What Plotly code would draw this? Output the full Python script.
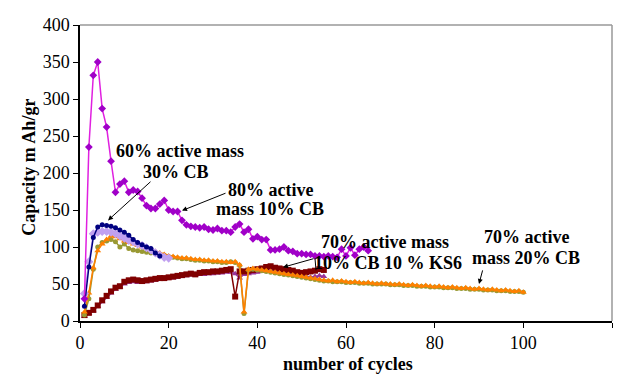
import plotly.graph_objects as go

# ---------------- data ----------------
cycles_m = list(range(1, 66))
cap_magenta = [30, 235, 332, 350, 287, 262, 216, 174, 185, 189, 174, 177, 175, 166, 156, 152,
               152, 158, 163, 150, 148, 148, 136, 130, 128, 127, 126, 127, 124, 123, 125, 122,
               122, 120, 127, 131, 120, 124, 111, 114, 110, 110, 96, 96, 97, 100, 95, 94, 91,
               91, 90, 90, 88, 88, 87, 88, 87, 86, 97, 88, 99, 89, 97, 100, 95]

cycles_n = list(range(1, 19))
cap_navy = [20, 73, 113, 127, 130, 129, 128, 126, 123, 120, 116, 110, 106, 103, 100, 98, 92, 88]

cycles_l = list(range(1, 21))
cap_lavender = [37, 80, 118, 120, 121, 121, 120, 118, 115, 112, 109, 107, 104, 102, 99, 96,
                92, 89, 86, 85]

cycles_o = list(range(1, 101))
cap_orange = [12, 38, 72, 95, 104, 110, 115, 114, 111, 108, 106, 104, 102, 100, 98, 96, 94,
              92, 90, 88, 87, 86, 85, 85, 84, 83, 83, 82, 82, 81, 81, 80, 80, 79, 80, 76, 12,
              70, 71, 70, 69, 68, 67, 66, 65, 64, 63, 62, 61, 60, 59, 58, 57, 56, 55, 54, 55,
              53, 54, 53, 52, 53, 52, 51, 52, 51, 50, 51, 50, 50, 49, 50, 49, 48, 49, 48, 47,
              48, 47, 46, 47, 46, 45, 46, 45, 44, 45, 44, 43, 44, 43, 42, 43, 42, 41, 42, 41,
              40, 41, 39]
cap_olive = [8, 30, 70, 100, 106, 108, 110, 107, 100, 104, 98, 96, 95, 94, 93, 92, 91, 90, 89,
             87, 86, 85, 84, 84, 83, 82, 82, 81, 81, 80, 80, 79, 79, 80, 79, 75, 10, 69, 70, 69,
             68, 67, 66, 65, 64, 63, 62, 61, 60, 59, 58, 57, 56, 55, 54, 54, 53, 53, 53, 52, 52,
             52, 51, 51, 51, 50, 50, 50, 50, 49, 49, 49, 48, 48, 48, 47, 47, 47, 46, 46, 46, 45,
             45, 45, 44, 44, 44, 43, 43, 43, 42, 42, 42, 41, 41, 41, 40, 40, 40, 39]

cycles_r = list(range(1, 56))
cap_darkred = [8, 11, 15, 21, 28, 34, 40, 45, 47, 53, 55, 56, 55, 54, 55, 56, 57, 58, 58, 59,
               60, 61, 62, 63, 64, 63, 65, 66, 66, 67, 67, 68, 69, 70, 33, 67, 67, 68, 69, 70,
               71, 73, 74, 72, 71, 70, 69, 68, 66, 65, 66, 67, 68, 70, 69]
cap_purple = [6, 10, 14, 20, 26, 32, 38, 43, 46, 50, 52, 53, 52, 52, 53, 54, 55, 56, 57, 58,
              58, 59, 60, 61, 62, 62, 63, 63, 64, 64, 65, 65, 66, 66, 64, 58, 63, 64, 65, 66,
              67, 68, 68, 67, 66, 65, 64, 63, 62, 61, 60, 59, 60, 61, 60]

x_ticks = [0, 20, 40, 60, 80, 100, 120]
y_ticks = [0, 50, 100, 150, 200, 250, 300, 350, 400]

# ---------------- figure ----------------
OFF = 8  # default page body margin (kept inside the window to avoid scrollbars)
W, H = 627 - 2 * OFF, 382 - 2 * OFF
# plot area in page pixels: x 80..612, y 18..321
L, T = 80 - OFF, 18 - OFF
R = W - (612 - OFF)
B = H - (321 - OFF)
PW, PH = W - L - R, H - T - B

def px(x):  # page pixel x -> paper
    return (x - OFF - L) / PW

def py(y):  # page pixel y -> paper
    return (H - B - (y - OFF)) / PH

fig = go.Figure()

def add(xs, ys, line_color, marker_color, symbol, size, name):
    fig.add_trace(go.Scatter(
        x=xs, y=ys, mode="lines+markers", name=name,
        line=dict(color=line_color, width=1.5),
        marker=dict(color=marker_color, symbol=symbol, size=size, line=dict(width=0)),
    ))

add(cycles_r, cap_purple, "#993399", "#993399", "triangle-up", 6, "purple")
add(cycles_r, cap_darkred, "#800000", "#800000", "square", 6, "darkred")
add(cycles_o, cap_olive, "#999933", "#999933", "circle", 5, "olive")
add(cycles_o, cap_orange, "#FF8000", "#FF8000", "triangle-up", 6, "orange")
add(cycles_l, cap_lavender, "#C0A0F0", "#C0A0F0", "diamond", 7, "lavender")
add(cycles_n, cap_navy, "#000080", "#000080", "circle", 5, "navy")
add(cycles_m, cap_magenta, "#E020E0", "#A000C8", "diamond", 6, "magenta")

font_txt = dict(family="Liberation Serif", size=18, color="black")

texts = [
    ("<b>60% active mass</b>", 180, 147),
    ("<b>30% CB</b>", 176, 168),
    ("<b>80% active</b>", 270, 187),
    ("<b>mass 10% CB</b>", 270, 206),
    ("<b>70% active mass</b>", 385, 240),
    ("<b>10% CB 10 % KS6</b>", 388, 262),
    ("<b>70% active</b>", 526, 235),
    ("<b>mass 20% CB</b>", 526, 256),
]
annotations = []
for t, xx, yy in texts:
    annotations.append(dict(text=t, xref="paper", yref="paper", x=px(xx), y=py(yy),
                            showarrow=False, font=font_txt, xanchor="center", yanchor="middle"))

arrows = [((108, 218), (152, 178)), ((182, 208), (227, 190)),
          ((283, 266), (315, 257)), ((479, 283), (483, 268))]
for (hx, hy), (tx, ty) in arrows:
    annotations.append(dict(text="", xref="paper", yref="paper", x=px(hx), y=py(hy),
                            ax=tx - hx, ay=ty - hy, axref="pixel", ayref="pixel",
                            showarrow=True, arrowhead=2, arrowsize=1, arrowwidth=1,
                            arrowcolor="black"))

annotations.append(dict(text="<b>Capacity m Ah/gr</b>", xref="paper", yref="paper",
                        x=px(29), y=py(164), textangle=-90, showarrow=False,
                        font=dict(family="Liberation Serif", size=18, color="black"),
                        xanchor="center", yanchor="middle"))
annotations.append(dict(text="<b>number of cycles</b>", xref="paper", yref="paper",
                        x=px(348), y=py(365), showarrow=False,
                        font=dict(family="Liberation Serif", size=18, color="black"),
                        xanchor="center", yanchor="middle"))

shapes = [
    dict(type="line", xref="paper", yref="paper", x0=0, x1=1, y0=1, y1=1,
         line=dict(color="#999999", width=1.5)),
    dict(type="line", xref="paper", yref="paper", x0=1, x1=1, y0=0, y1=1,
         line=dict(color="#999999", width=1.5)),
    dict(type="line", xref="paper", yref="paper", x0=px(315), x1=px(316), y0=py(257), y1=py(269),
         line=dict(color="black", width=1)),
]

fig.update_layout(
    width=W, height=H, margin=dict(l=L, r=R, t=T, b=B),
    paper_bgcolor="white", plot_bgcolor="white", showlegend=False,
    annotations=annotations, shapes=shapes,
    xaxis=dict(range=[0, 120], tickvals=x_ticks, ticks="outside", ticklen=5, tickcolor="black",
               showline=True, linecolor="black", linewidth=1.5, showgrid=False, zeroline=False,
               tickfont=dict(family="Liberation Serif", size=18, color="black")),
    yaxis=dict(range=[0, 400], tickvals=y_ticks, ticks="outside", ticklen=5, tickcolor="black",
               showline=True, linecolor="black", linewidth=1.5, showgrid=False, zeroline=False,
               tickfont=dict(family="Liberation Serif", size=18, color="black")),
)

fig.write_html("out.html")
